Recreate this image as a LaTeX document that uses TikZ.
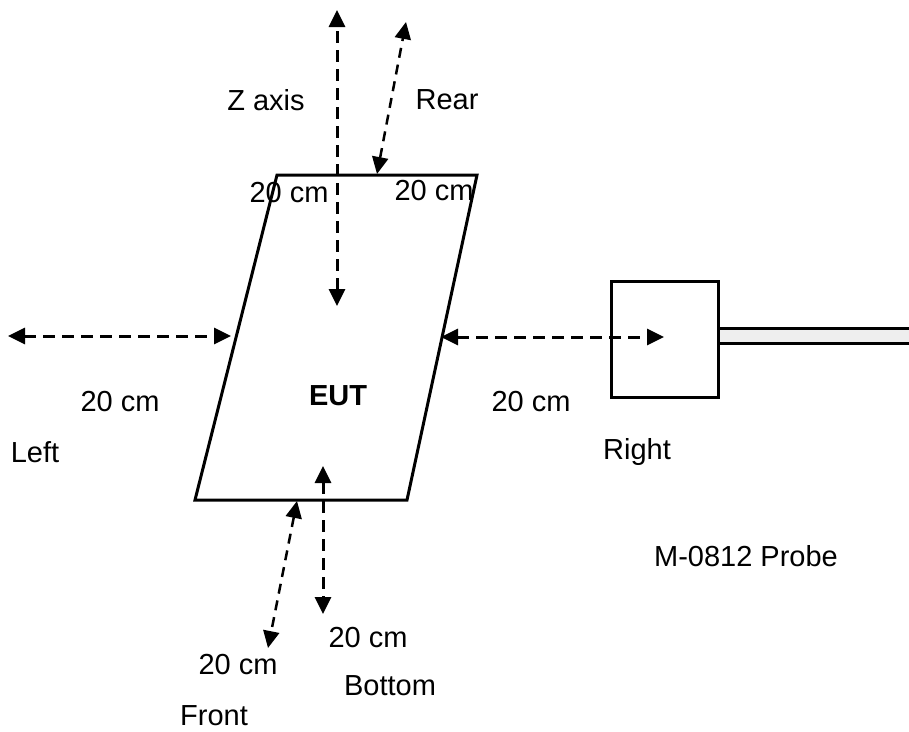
\documentclass[tikz,border=0pt]{standalone}
\usepackage{fontspec}
\setmainfont{Liberation Sans}
\usetikzlibrary{arrows.meta}
\definecolor{cablegray}{HTML}{EEEEEE}

\begin{document}
\begin{tikzpicture}[x=1pt, y=-1pt,
    every node/.style={font=\fontsize{29}{33}\selectfont, inner sep=0pt},
    body/.style={line width=3pt, line join=miter},
    gap/.style={line width=3pt, dash pattern=on 12pt off 7pt,
      {Triangle[length=17pt,width=16pt]}-{Triangle[length=17pt,width=16pt]}},
    thingap/.style={gap, line width=2.5pt, dash pattern=on 10pt off 7pt}]
  \useasboundingbox (0,0) rectangle (909,731);

  % EUT body
  \coordinate (tl) at (277,175);
  \coordinate (tr) at (477,175);
  \coordinate (br) at (407,500);
  \coordinate (bl) at (195,500);
  \draw[body] (tl) -- (tr) -- (br) -- (bl) -- cycle;
  \node (eut) at (338,396) {\textbf{EUT}};

  % probe and cable
  \draw[body, fill=cablegray] (718,328) rectangle (912,343);
  \node[draw, line width=3pt, fill=white, minimum width=107pt, minimum height=116pt]
    (probe) at (665,339) {};

  % measuring points
  \coordinate (ztop) at (337,10);
  \coordinate (zin) at (337,306);
  \coordinate (reartop) at (406,22);
  \coordinate (rearin) at (377,174);
  \coordinate (leftout) at (8,336);
  \coordinate (leftin) at (231,336);
  \coordinate (rightin) at (441,337);
  \coordinate (rightout) at (664,337);
  \coordinate (botin) at (323,466);
  \coordinate (botout) at (323,614);
  \coordinate (frontin) at (297,501);
  \coordinate (frontout) at (268,648);

  \draw[gap] (zin) -- (ztop);
  \draw[thingap] (rearin) -- (reartop);
  \draw[gap] (leftout) -- (leftin);
  \draw[gap] (rightin) -- (rightout);
  \draw[gap] (botin) -- (botout);
  \draw[thingap] (frontin) -- (frontout);

  % labels
  \node (zlabel) at (266,100) {Z axis};
  \node (rearlabel) at (447,100) {Rear};
  \node (zdist) at (289,193) {20 cm};
  \node (reardist) at (434,191) {20 cm};
  \node (leftdist) at (120,402) {20 cm};
  \node (leftlabel) at (35,452) {Left};
  \node (rightdist) at (531,402) {20 cm};
  \node (rightlabel) at (637,452) {Right};
  \node (probelabel) at (746,556) {M-0812 Probe};
  \node (botdist) at (368,638) {20 cm};
  \node (frontdist) at (238,665) {20 cm};
  \node (botlabel) at (390,686) {Bottom};
  \node (frontlabel) at (214,716) {Front};
\end{tikzpicture}
\end{document}
